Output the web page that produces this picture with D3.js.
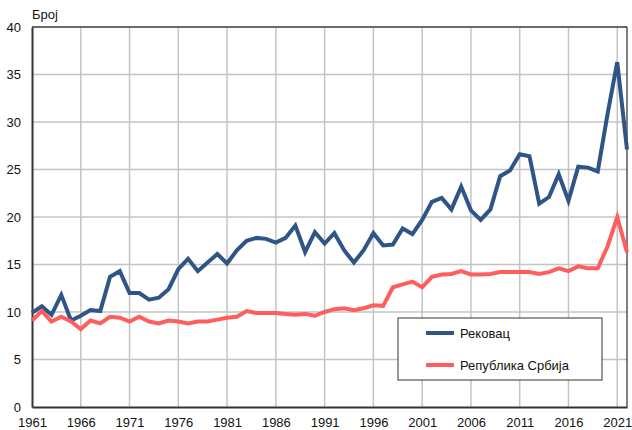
<!DOCTYPE html>
<html>
<head>
<meta charset="utf-8">
<script src="https://cdn.jsdelivr.net/npm/d3@7"></script>
<style>
  body { margin: 0; background: #fff; }
  svg { display: block; font-family: "Liberation Sans", Arial, sans-serif; }
</style>
</head>
<body>
<svg id="chart" width="632" height="430"></svg>
<script>
const firstYear = 1961
const lastYear = 2022
const years = d3.range(firstYear, lastYear + 1)
const xTicks = [1961, 1966, 1971, 1976, 1981, 1986, 1991, 1996, 2001, 2006, 2011, 2016, 2021]
const yTicks = [0, 5, 10, 15, 20, 25, 30, 35, 40]

// Рековац
const rekovac = [
  9.9, 10.6, 9.7, 11.8, 9.1, 9.6, 10.2, 10.1, 13.7, 14.3,
  12.0, 12.0, 11.3, 11.5, 12.4, 14.5, 15.6, 14.3, 15.2, 16.1,
  15.1, 16.5, 17.5, 17.8, 17.7, 17.3, 17.8, 19.1, 16.3, 18.4,
  17.2, 18.3, 16.5, 15.2, 16.5, 18.3, 17.0, 17.1, 18.8, 18.2,
  19.7, 21.6, 22.0, 20.8, 23.2, 20.7, 19.7, 20.8, 24.3, 24.9,
  26.6, 26.4, 21.4, 22.1, 24.5, 21.7, 25.3, 25.2, 24.8, 30.8,
  36.3, 27.1
]
// Република Србија
const srbija = [
  9.1, 10.1, 9.0, 9.5, 9.0, 8.2, 9.1, 8.8, 9.5, 9.4,
  9.0, 9.5, 9.0, 8.8, 9.1, 9.0, 8.8, 9.0, 9.0, 9.2,
  9.4, 9.5, 10.1, 9.9, 9.9, 9.9, 9.8, 9.7, 9.8, 9.6,
  10.0, 10.3, 10.4, 10.2, 10.4, 10.7, 10.65, 12.6, 12.9, 13.2,
  12.6, 13.7, 13.95, 14.0, 14.3, 13.95, 13.95, 14.0, 14.2, 14.2,
  14.2, 14.2, 14.0, 14.2, 14.6, 14.3, 14.8, 14.6, 14.6, 16.9,
  20.0, 16.3
]
const seriesNames = ['Рековац', 'Република Србија']
const seriesColors = ['#2f5586', '#ff5e5e']
const yLabel = 'Број'

const margin = { top: 27, right: 5, bottom: 23, left: 32 }
const width = 632, height = 430
const svg = d3.select('#chart')

const x = d3.scaleLinear()
  .domain([firstYear, lastYear])
  .range([margin.left, width - margin.right])
const y = d3.scaleLinear()
  .domain([0, 40])
  .range([height - margin.bottom, margin.top])

// grid
svg.append('g')
  .selectAll('line')
  .data(yTicks.slice(1))
  .join('line')
  .attr('x1', margin.left).attr('x2', width - margin.right)
  .attr('y1', d => y(d)).attr('y2', d => y(d))
  .attr('stroke', '#c4c4c4').attr('stroke-width', 1.5)
svg.append('g')
  .selectAll('line')
  .data(xTicks.slice(1))
  .join('line')
  .attr('x1', d => x(d)).attr('x2', d => x(d))
  .attr('y1', margin.top).attr('y2', height - margin.bottom)
  .attr('stroke', '#c4c4c4').attr('stroke-width', 1.5)

// frame
svg.append('line')
  .attr('x1', margin.left).attr('x2', width - margin.right)
  .attr('y1', margin.top).attr('y2', margin.top)
  .attr('stroke', '#000').attr('stroke-width', 1)
svg.append('line')
  .attr('x1', width - margin.right).attr('x2', width - margin.right)
  .attr('y1', margin.top).attr('y2', height - margin.bottom)
  .attr('stroke', '#000').attr('stroke-width', 1)

// axes
const yAxis = svg.append('g')
  .attr('transform', `translate(${margin.left},0)`)
  .call(d3.axisLeft(y).tickValues(yTicks).tickSize(0).tickPadding(11))
yAxis.select('.domain').attr('stroke', '#333').attr('stroke-width', 2)
yAxis.selectAll('text').attr('font-size', 13).attr('fill', '#111')
  .attr('font-family', '"Liberation Sans", Arial, sans-serif')

const xAxis = svg.append('g')
  .attr('transform', `translate(0,${height - margin.bottom})`)
  .call(d3.axisBottom(x).tickValues(xTicks).tickFormat(d3.format('d')).tickSize(0).tickPadding(11))
xAxis.select('.domain').attr('stroke', '#333').attr('stroke-width', 2)
xAxis.selectAll('text').attr('font-size', 13).attr('fill', '#111')
  .attr('font-family', '"Liberation Sans", Arial, sans-serif')

svg.append('text')
  .attr('x', margin.left).attr('y', 19)
  .attr('font-size', 13).attr('fill', '#111')
  .text(yLabel)

// lines
const line = d3.line()
  .x((d, i) => x(years[i]))
  .y(d => y(d))
const data = [rekovac, srbija]
svg.append('g')
  .selectAll('path')
  .data(data)
  .join('path')
  .attr('d', d => line(d))
  .attr('fill', 'none')
  .attr('stroke', (d, i) => seriesColors[i])
  .attr('stroke-width', 4)
  .attr('stroke-linejoin', 'miter')

// legend
const legend = svg.append('g').attr('transform', 'translate(398,318)')
legend.append('rect')
  .attr('width', 204).attr('height', 62)
  .attr('fill', '#fff').attr('stroke', '#333').attr('stroke-width', 1)
const items = legend.selectAll('g')
  .data(seriesNames)
  .join('g')
  .attr('transform', (d, i) => `translate(0,${15 + i * 32})`)
items.append('line')
  .attr('x1', 28).attr('x2', 56)
  .attr('stroke', (d, i) => seriesColors[i]).attr('stroke-width', 4)
items.append('text')
  .attr('x', 62).attr('y', 5)
  .attr('font-size', 13).attr('fill', '#111')
  .text(d => d)
</script>
</body>
</html>
